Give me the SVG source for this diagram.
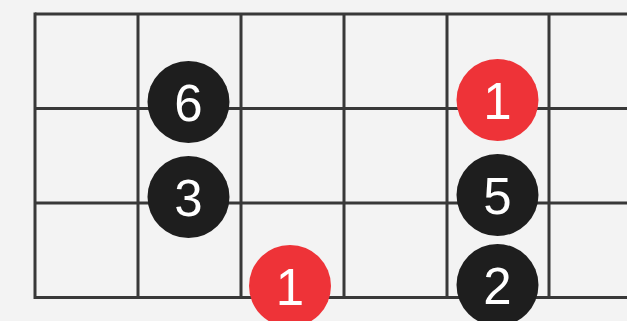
<svg xmlns="http://www.w3.org/2000/svg" width="627" height="321" viewBox="0 0 627 321">
<style>
.grid line{stroke:#383838;stroke-width:3;}
.note circle{stroke:none;}
.black{fill:#1e1e1e;}
.red{fill:#ee3338;}
.note text{fill:#ffffff;font-family:"Liberation Sans",Arial,sans-serif;font-size:51px;text-anchor:middle;}
</style>
<rect width="627" height="321" fill="#f3f3f3"/>
<g id="grid" class="grid">
<line x1="35" y1="14" x2="627" y2="14"/>
<line x1="35" y1="108.5" x2="627" y2="108.5"/>
<line x1="35" y1="203" x2="627" y2="203"/>
<line x1="35" y1="297.5" x2="627" y2="297.5"/>
<line x1="35" y1="12.5" x2="35" y2="299"/>
<line x1="138" y1="14" x2="138" y2="297.5"/>
<line x1="241" y1="14" x2="241" y2="297.5"/>
<line x1="344" y1="14" x2="344" y2="297.5"/>
<line x1="447" y1="14" x2="447" y2="297.5"/>
<line x1="549" y1="14" x2="549" y2="297.5"/>
</g>
<g id="connectors"></g>
<g id="n6" class="note"><circle class="black" cx="188.5" cy="102" r="41"/><text x="188.5" y="120.5">6</text></g>
<g id="n3" class="note"><circle class="black" cx="188.5" cy="197" r="41"/><text x="188.5" y="215.5">3</text></g>
<g id="n1a" class="note"><circle class="red" cx="290" cy="286" r="41"/><text x="290" y="304.5">1</text></g>
<g id="n1b" class="note"><circle class="red" cx="497.5" cy="100" r="41"/><text x="497.5" y="118.5">1</text></g>
<g id="n5" class="note"><circle class="black" cx="497.5" cy="195" r="41"/><text x="497.5" y="213.5">5</text></g>
<g id="n2" class="note"><circle class="black" cx="497.5" cy="285" r="41"/><text x="497.5" y="303.5">2</text></g>
</svg>
